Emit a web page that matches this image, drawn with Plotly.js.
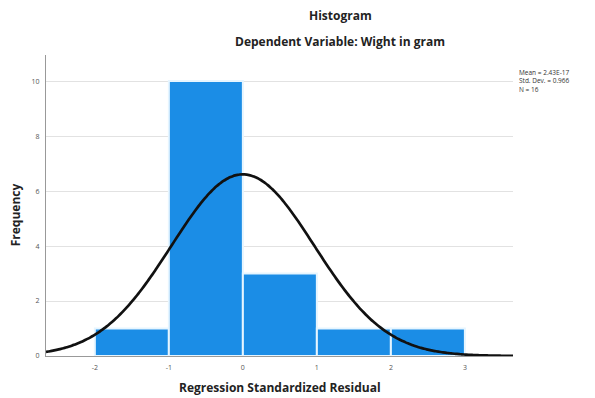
<!DOCTYPE html>
<html>
<head>
<meta charset="utf-8">
<script src="https://cdn.plot.ly/plotly-3.0.1.min.js"></script>
<style>html,body{margin:0;padding:0;background:#fff}#chart{width:595px;height:398px}</style>
</head>
<body>
<div id="chart"></div>
<script>
// Histogram bins (regression standardized residual)
const binCenters = [-1.5, -0.5, 0.5, 1.5, 2.5];
const binCounts = [1, 10, 3, 1, 1];
const binWidth = 1;
// Summary statistics shown in the chart
const meanVal = 2.43e-17;
const stdDev = 0.966;
const nObs = 16;
const xTicks = [-2, -1, 0, 1, 2, 3];
const yTicks = [0, 2, 4, 6, 8, 10];

// Fitted normal curve from the stated mean, std. dev. and N
const curveX = [];
for (let i = 0; i <= 200; i++) curveX.push(-2.66 + i * (3.65 + 2.66) / 200);
const curveY = curveX.map(x => nObs * binWidth / (stdDev * Math.sqrt(2 * Math.PI)) *
  Math.exp(-0.5 * Math.pow((x - meanVal) / stdDev, 2)));

const data = [
  {type: 'bar', x: binCenters, y: binCounts, width: binWidth,
   marker: {color: '#1b8de6', line: {color: '#e6f5ff', width: 2}},
   hoverinfo: 'skip', showlegend: false},
  {type: 'scatter', mode: 'lines', x: curveX, y: curveY,
   line: {color: '#111', width: 2.7, shape: 'spline'}, hoverinfo: 'skip', showlegend: false}
];

const tickFont = {family: 'Open Sans, Liberation Sans, sans-serif', size: 7, color: '#555'};
const boldFont = {family: 'Open Sans, Liberation Sans, sans-serif', size: 12, color: '#222', weight: 'bold'};

const layout = {
  width: 595, height: 398,
  margin: {l: 46, r: 82, t: 55, b: 42},
  paper_bgcolor: '#fff', plot_bgcolor: '#fff',
  bargap: 0,
  xaxis: {range: [-2.66, 3.65], tickvals: xTicks, ticktext: xTicks.map(String),
          showgrid: false, zeroline: false, showline: true, linecolor: '#999', linewidth: 1,
          tickfont: tickFont, ticks: '', ticklabelstandoff: 5, fixedrange: true},
  yaxis: {range: [0, 10.95], tickvals: yTicks, ticktext: yTicks.map(String),
          showgrid: true, gridcolor: '#e2e2e2', gridwidth: 1, zeroline: false,
          showline: true, linecolor: '#999', linewidth: 1,
          tickfont: tickFont, ticks: '', ticklabelstandoff: 4, fixedrange: true},
  annotations: [
    {text: 'Histogram', xref: 'paper', yref: 'paper', x: 0.63, y: 1.1296,
     xanchor: 'center', yanchor: 'middle', showarrow: false, font: boldFont},
    {text: 'Dependent Variable: Wight in gram', xref: 'paper', yref: 'paper', x: 0.63, y: 1.0465,
     xanchor: 'center', yanchor: 'middle', showarrow: false, font: boldFont},
    {text: 'Regression Standardized Residual', xref: 'paper', yref: 'paper', x: 0.5, y: -0.106,
     xanchor: 'center', yanchor: 'middle', showarrow: false, font: boldFont},
    {text: 'Frequency', xref: 'paper', yref: 'paper', x: -0.066, y: 0.468, textangle: -90,
     xanchor: 'center', yanchor: 'middle', showarrow: false, font: boldFont},
    {text: 'Mean = ' + meanVal.toExponential(2).toUpperCase() + '<br>Std. Dev. = ' + stdDev.toFixed(3) + '<br>N = ' + nObs,
     xref: 'paper', yref: 'paper', x: 1.0086, y: 0.965, xanchor: 'left', yanchor: 'top',
     align: 'left', showarrow: false,
     font: {family: 'Open Sans, Liberation Sans, sans-serif', size: 6.5, color: '#333'}}
  ]
};

Plotly.newPlot('chart', data, layout, {displayModeBar: false, staticPlot: true});
</script>
</body>
</html>
